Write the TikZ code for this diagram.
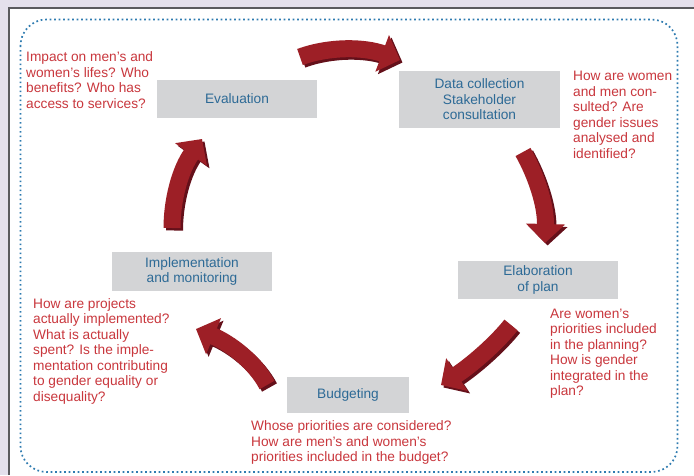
\documentclass[tikz,border=0pt]{standalone}
\usepackage{fontspec}
\setmainfont{Liberation Sans}
\usetikzlibrary{arrows.meta,positioning}

\definecolor{lavender}{HTML}{E4E0EC}
\definecolor{framegrey}{HTML}{5A5A5E}
\definecolor{borderblue}{HTML}{2E7BB0}
\definecolor{stagegrey}{HTML}{D3D4D6}
\definecolor{stageblue}{HTML}{2D6A96}
\definecolor{notered}{HTML}{C9373D}
\definecolor{arrowred}{HTML}{9D1F26}
\definecolor{arrowshade}{HTML}{64101A}

\newcommand{\cyclefont}{\fontsize{13.7}{15.5}\selectfont}

\begin{document}
\begin{tikzpicture}[x=1pt,y=-1pt,
    stage/.style={fill=stagegrey, text=stageblue, align=center, inner sep=0pt, font=\cyclefont},
    note/.style={text=notered, align=left, anchor=north west, inner sep=0pt, font=\cyclefont,
      execute at begin node=\strut},
    cyclearrow/.style={draw=arrowred, line width=17pt, -{Triangle[width=38pt,length=19pt]}},
    cycleshade/.style={cyclearrow, draw=arrowshade, transform canvas={shift={(2.5,2.5)}}}]
    \useasboundingbox (0,0) rectangle (694,475);
    % Page and frame
    \fill[lavender] (0,0) rectangle (694,475);
    \fill[white] (9,8) rectangle (694,475);
    \draw[framegrey, line width=1.5pt] (9,475) -- (9,8) -- (694,8);
    \draw[borderblue, line width=1.7pt, dash pattern=on 1.7pt off 2.8pt, rounded corners=26pt]
        (20.5,19.5) rectangle (677.5,472);

    % Stages of the cycle
    \node[stage, minimum width=160, minimum height=38] (eval) at (237,98.5) {Evaluation};
    \node[stage, minimum width=161, minimum height=57] (data) at (479.5,99.5)
        {Data collection\\Stakeholder\\consultation};
    \node[stage, minimum width=160, minimum height=38] (plan) at (538,280) {Elaboration\\of plan};
    \node[stage, minimum width=122, minimum height=36] (budget) at (348,395) {Budgeting};
    \node[stage, minimum width=160, minimum height=39] (impl) at (192,271.5)
        {Implementation\\and monitoring};

    % Questions for each stage
    \node[note] (evalq) at (26,51.8)
        {Impact on men's and\\women's lifes? Who\\benefits? Who has\\access to services?};
    \node[note] (dataq) at (573,71.2)
        {How are women\\and men con-\\sulted? Are\\gender issues\\analysed and\\identified?};
    \node[note] (planq) at (550,308.6)
        {Are women's\\priorities included\\in the planning?\\How is gender\\integrated in the\\plan?};
    \node[note] (budgetq) at (251,420.8)
        {Whose priorities are considered?\\How are men's and women's\\priorities included in the budget?};
    \node[note] (implq) at (33,298.3)
        {How are projects\\actually implemented?\\What is actually\\spent? Is the imple-\\mentation contributing\\to gender equality or\\disequality?};

    % Arrows between the stages
    \coordinate (todata0) at (300,57);    \coordinate (todata1) at (400,60);
    \coordinate (toplan0) at (523,152);   \coordinate (toplan1) at (545,243);
    \coordinate (tobudget0) at (511,325); \coordinate (tobudget1) at (441,385);
    \coordinate (toimpl0) at (267,385);   \coordinate (toimpl1) at (196,329);
    \coordinate (toeval0) at (172,228);   \coordinate (toeval1) at (202,139);
    \foreach \a/\c/\d in {todata/{330,46}/{365,47}, toplan/{536,175}/{546,205},
                          tobudget/{495,345}/{470,366}, toimpl/{255,362}/{230,343},
                          toeval/{172,200}/{180,170}}{
      \draw[cycleshade] (\a0) .. controls (\c) and (\d) .. (\a1);
      \draw[cyclearrow] (\a0) .. controls (\c) and (\d) .. (\a1);
    }
\end{tikzpicture}
\end{document}
